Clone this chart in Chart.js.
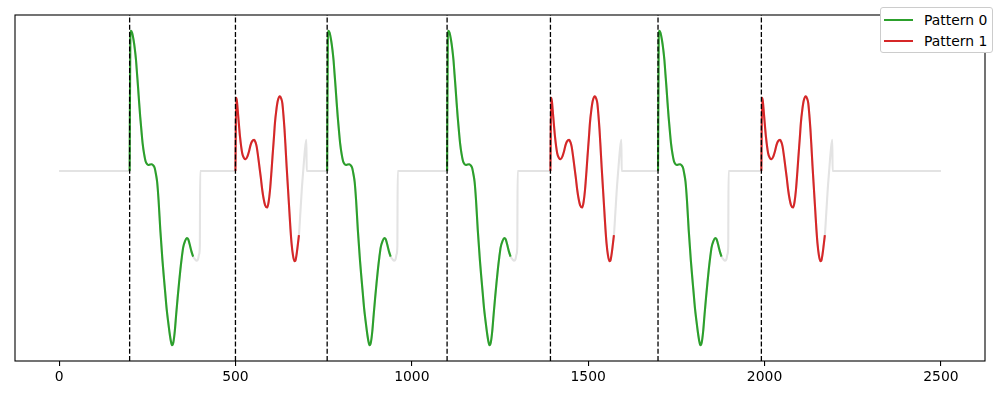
<!DOCTYPE html>
<html>
<head>
<meta charset="utf-8">
<script src="https://cdn.jsdelivr.net/npm/chart.js@4.4.1/dist/chart.umd.min.js"></script>
<style>
  html, body { margin: 0; padding: 0; background: #ffffff; }
  #wrap { position: relative; width: 1000px; height: 400px; }
  #legend {
    position: absolute; left: 880px; top: 7px; width: 111px; height: 44px;
    background: #ffffff; border: 1px solid #cccccc; border-radius: 3px;
    font-family: "DejaVu Sans", sans-serif; font-size: 13.9px; color: #000;
  }
  .row { position: absolute; left: 0; height: 16px; }
  .swatch { position: absolute; left: 3px; width: 29px; height: 2px; }
  .lbl { position: absolute; left: 43px; white-space: nowrap; line-height: 16px; }
</style>
</head>
<body>
<div id="wrap">
  <canvas id="c" width="1000" height="400"></canvas>
  <div id="legend"></div>
</div>
<script>
// ---------------- data ----------------
const seriesLength = 2500;
const xTickValues = [0, 500, 1000, 1500, 2000, 2500];
const legendLabels = ['Pattern 0', 'Pattern 1'];
const patternColors = ['#2ca02c', '#d62728'];

// start positions of each pattern occurrence
const pattern0Starts = [200, 760, 1100, 1698];
const pattern1Starts = [500, 1393, 1991];

// Pattern 0 (highlighted part), offsets from start and values
const pattern0Offsets = [0, 2, 4, 7, 11, 15, 18, 21, 24, 27, 30, 34, 37, 41, 45, 49, 53, 58, 63, 67, 71, 75, 78, 82, 87, 93, 97, 101, 105, 109, 113, 117, 120, 124, 128, 132, 136, 140, 144, 148, 152, 157, 162, 166, 170, 175, 180];
const pattern0Values  = [0, 1.36, 1.40, 1.38, 1.31, 1.21, 1.11, 0.97, 0.83, 0.68, 0.54, 0.38, 0.27, 0.17, 0.10, 0.07, 0.06, 0.065, 0.067, 0.055, 0.03, -0.04, -0.11, -0.29, -0.59, -0.89, -1.06, -1.22, -1.38, -1.50, -1.61, -1.70, -1.74, -1.71, -1.60, -1.43, -1.27, -1.12, -0.98, -0.86, -0.76, -0.70, -0.67, -0.68, -0.73, -0.80, -0.855];
// rest of the underlying signal after the highlighted part (grey only)
const pattern0TailOffsets = [185, 190, 194, 197, 199, 200];
const pattern0TailValues  = [-0.88, -0.895, -0.88, -0.83, -0.75, 0];

// Pattern 1 (highlighted part)
const pattern1Offsets = [0, 2, 4, 8, 13, 19, 24, 29, 34, 38, 43, 47, 53, 57, 60, 64, 68, 72, 76, 80, 84, 90, 94, 98, 102, 105, 109, 112, 116, 120, 126, 130, 133, 136, 139, 142, 145, 149, 153, 156, 159, 163, 167, 170, 173, 176, 180];
const pattern1Values  = [0, 0.73, 0.70, 0.54, 0.34, 0.18, 0.13, 0.117, 0.145, 0.19, 0.26, 0.295, 0.31, 0.285, 0.245, 0.15, 0.04, -0.07, -0.19, -0.28, -0.34, -0.365, -0.31, -0.19, -0.01, 0.14, 0.33, 0.48, 0.61, 0.70, 0.745, 0.72, 0.675, 0.56, 0.42, 0.24, 0.05, -0.18, -0.41, -0.58, -0.72, -0.84, -0.90, -0.895, -0.84, -0.76, -0.64];
const pattern1TailOffsets = [184, 188, 193, 197, 201, 202];
const pattern1TailValues  = [-0.42, -0.19, 0.04, 0.21, 0.31, 0];

// ---------------- build datasets ----------------
function shapePoints(start, offs, vals) {
  return offs.map((t, i) => ({ x: start + t, y: vals[i] }));
}

const occurrences = [];
pattern0Starts.forEach(s => occurrences.push({ start: s, p: 0 }));
pattern1Starts.forEach(s => occurrences.push({ start: s, p: 1 }));
occurrences.sort((a, b) => a.start - b.start);

const shapes = [
  { offs: pattern0Offsets, vals: pattern0Values, tOffs: pattern0TailOffsets, tVals: pattern0TailValues },
  { offs: pattern1Offsets, vals: pattern1Values, tOffs: pattern1TailOffsets, tVals: pattern1TailValues }
];

const greyData = [{ x: 0, y: 0 }];
occurrences.forEach(o => {
  const sh = shapes[o.p];
  greyData.push(...shapePoints(o.start, sh.offs, sh.vals));
  greyData.push(...shapePoints(o.start, sh.tOffs, sh.tVals));
});
greyData.push({ x: seriesLength, y: 0 });

const allVals = pattern0Values.concat(pattern1Values, pattern0TailValues, pattern1TailValues, [0]);
const dMin = Math.min(...allVals), dMax = Math.max(...allVals);
const yMin = dMin - 0.05 * (dMax - dMin);
const yMax = dMax + 0.05 * (dMax - dMin);
const xMin = -0.05 * seriesLength, xMax = seriesLength * 1.05;

const datasets = [];
// dashed vertical markers (on top)
occurrences.forEach(o => {
  datasets.push({
    data: [{ x: o.start, y: yMin }, { x: o.start, y: yMax }],
    borderColor: '#000000', borderWidth: 1.3, borderDash: [5, 2.2],
    pointRadius: 0, order: 0, clip: false
  });
});
// coloured pattern occurrences
occurrences.forEach(o => {
  const sh = shapes[o.p];
  datasets.push({
    data: shapePoints(o.start, sh.offs, sh.vals),
    borderColor: patternColors[o.p], borderWidth: 2.1,
    pointRadius: 0, cubicInterpolationMode: 'monotone', order: 1
  });
});
// grey full series (bottom)
datasets.push({
  data: greyData, borderColor: '#e3e3e3', borderWidth: 2.1,
  pointRadius: 0, cubicInterpolationMode: 'monotone', order: 2
});

const framePlugin = {
  id: 'frame',
  afterDraw(chart) {
    const a = chart.chartArea, ctx = chart.ctx;
    ctx.save();
    ctx.strokeStyle = '#000';
    ctx.lineWidth = 1.1;
    ctx.strokeRect(a.left, a.top, a.right - a.left, a.bottom - a.top);
    ctx.restore();
  }
};

new Chart(document.getElementById('c'), {
  type: 'line',
  data: { datasets },
  options: {
    responsive: false,
    animation: false,
    events: [],
    layout: { padding: { left: 15, right: 15, top: 15, bottom: 0 } },
    plugins: { legend: { display: false }, tooltip: { enabled: false } },
    scales: {
      x: {
        type: 'linear', min: xMin, max: xMax,
        afterBuildTicks(scale) { scale.ticks = xTickValues.map(v => ({ value: v })); },
        afterFit(scale) { scale.height = 39; },
        grid: { drawOnChartArea: false, drawTicks: true, tickLength: 5, color: '#000', lineWidth: 1.1 },
        border: { display: false },
        ticks: {
          color: '#000', padding: 3, maxRotation: 0,
          font: { family: 'DejaVu Sans', size: 13.9 },
          callback: v => String(v)
        }
      },
      y: { type: 'linear', display: false, min: yMin, max: yMax }
    }
  },
  plugins: [framePlugin]
});

// legend (HTML text)
const leg = document.getElementById('legend');
legendLabels.forEach((name, i) => {
  const row = document.createElement('div');
  row.className = 'row';
  row.style.top = (4 + i * 21) + 'px';
  row.style.width = '111px';
  const sw = document.createElement('div');
  sw.className = 'swatch';
  sw.style.top = '7px';
  sw.style.background = patternColors[i];
  const lb = document.createElement('div');
  lb.className = 'lbl';
  lb.textContent = name;
  row.appendChild(sw); row.appendChild(lb);
  leg.appendChild(row);
});
</script>
</body>
</html>
